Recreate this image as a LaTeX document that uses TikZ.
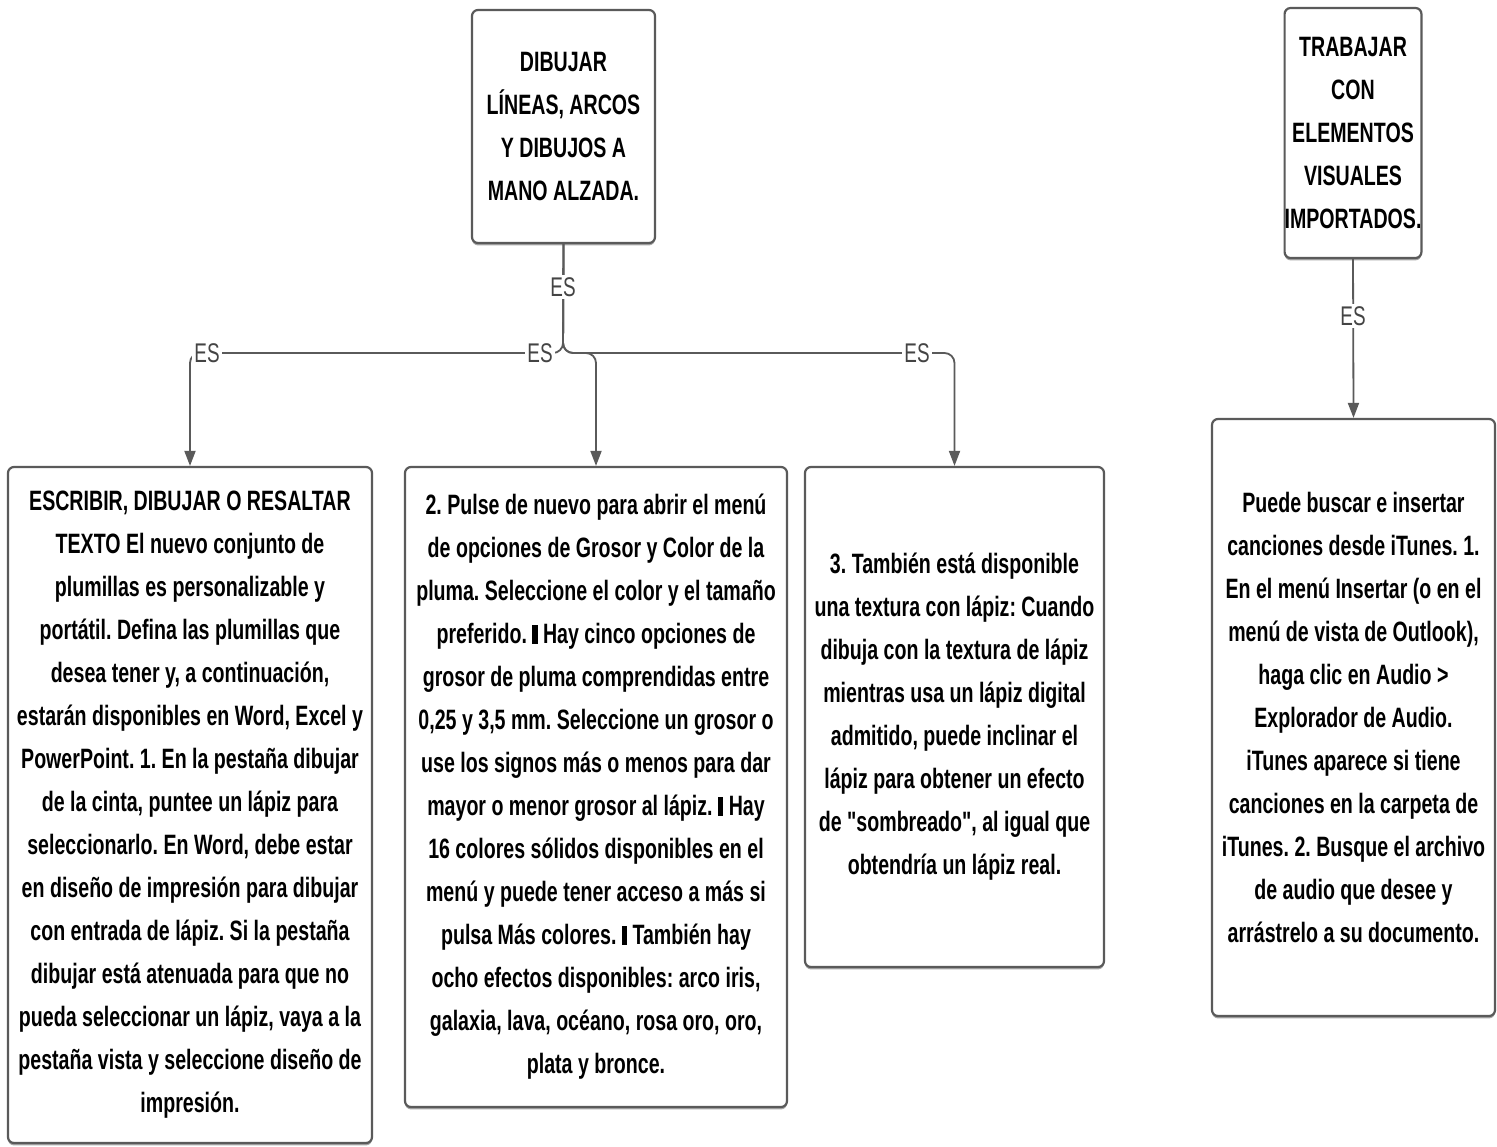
\documentclass[tikz,border=0pt]{standalone}
\usepackage{fontspec}
\setmainfont[FakeStretch=0.7]{Liberation Sans}
\newfontfamily\boxfont[FakeStretch=0.7]{Liberation Sans}
\usetikzlibrary{arrows.meta,shadows}
\definecolor{linegray}{HTML}{5A5A5A}
\definecolor{labelgray}{HTML}{444444}
\newcommand{\barmark}{\rule[0pt]{2.6pt}{9.5pt}}
\frenchspacing
\begin{document}
\frenchspacing
\begin{tikzpicture}[x=0.5pt,y=-0.5pt,
  boxstyle/.style={draw=linegray, line width=1.1pt, rounded corners=3pt, fill=white,
    drop shadow={shadow xshift=0pt, shadow yshift=-1.2pt, opacity=0.35, fill=black},
    align=center, inner sep=0pt, font=\frenchspacing\boxfont\bfseries\fontsize{14}{21.5}\selectfont},
  conn/.style={draw=linegray, line width=0.9pt, rounded corners=5pt},
  arr/.style={-{Triangle[length=7.5pt,width=5.5pt]}},
  eslabel/.style={fill=white, inner sep=1pt, text=labelgray, font=\fontsize{13.5}{15}\selectfont}]
\useasboundingbox (0,0) rectangle (1497,1146);
\fill[white] (0,0) rectangle (1497,1146);

\node[boxstyle, minimum width=91.5pt, minimum height=116.5pt] (A) at (563.5,126.5)
  {DIBUJAR\\LÍNEAS, ARCOS\\Y DIBUJOS A\\MANO ALZADA.};
\node[boxstyle, minimum width=67pt, minimum height=125pt] (B) at (1353,133)
  {TRABAJAR\\CON\\ELEMENTOS\\VISUALES\\IMPORTADOS.};

\node[boxstyle, minimum width=182pt, minimum height=338pt] (C1) at (190,805)
  {ESCRIBIR, DIBUJAR O RESALTAR\\TEXTO El nuevo conjunto de\\plumillas es personalizable y\\portátil. Defina las plumillas que\\desea tener y, a continuación,\\estarán disponibles en Word, Excel y\\PowerPoint. 1. En la pestaña dibujar\\de la cinta, puntee un lápiz para\\seleccionarlo. En Word, debe estar\\en diseño de impresión para dibujar\\con entrada de lápiz. Si la pestaña\\dibujar está atenuada para que no\\pueda seleccionar un lápiz, vaya a la\\pestaña vista y seleccione diseño de\\impresión.};

\node[boxstyle, minimum width=191pt, minimum height=320pt] (C2) at (596,787)
  {2. Pulse de nuevo para abrir el menú\\de opciones de Grosor y Color de la\\pluma. Seleccione el color y el tamaño\\preferido. \barmark{} Hay cinco opciones de\\grosor de pluma comprendidas entre\\0,25 y 3,5 mm. Seleccione un grosor o\\use los signos más o menos para dar\\mayor o menor grosor al lápiz. \barmark{} Hay\\16 colores sólidos disponibles en el\\menú y puede tener acceso a más si\\pulsa Más colores. \barmark{} También hay\\ocho efectos disponibles: arco iris,\\galaxia, lava, océano, rosa oro, oro,\\plata y bronce.};

\node[boxstyle, minimum width=149.5pt, minimum height=250pt] (C3) at (954.5,717)
  {3. También está disponible\\una textura con lápiz: Cuando\\dibuja con la textura de lápiz\\mientras usa un lápiz digital\\admitido, puede inclinar el\\lápiz para obtener un efecto\\de "sombreado", al igual que\\obtendría un lápiz real.};

\node[boxstyle, minimum width=141.5pt, minimum height=298.5pt] (D) at (1353.5,717.5)
  {Puede buscar e insertar\\canciones desde iTunes. 1.\\En el menú Insertar (o en el\\menú de vista de Outlook),\\haga clic en Audio >\\Explorador de Audio.\\iTunes aparece si tiene\\canciones en la carpeta de\\iTunes. 2. Busque el archivo\\de audio que desee y\\arrástrelo a su documento.};

\coordinate (J) at (563,353);
\draw[conn,arr] (A.south) -- (J) -| (C1.north);
\draw[conn,arr] (A.south) -- (J) -| (C2.north);
\draw[conn,arr] (A.south) -- (J) -| (C3.north);
\draw[conn,arr] (B.south) -- (D.north);

\node[eslabel] (l0) at (563,287) {ES};
\node[eslabel] (l1) at (207,353) {ES};
\node[eslabel] (l2) at (540,353) {ES};
\node[eslabel] (l3) at (917,353) {ES};
\node[eslabel] (l4) at (1353,316) {ES};
\end{tikzpicture}
\end{document}
